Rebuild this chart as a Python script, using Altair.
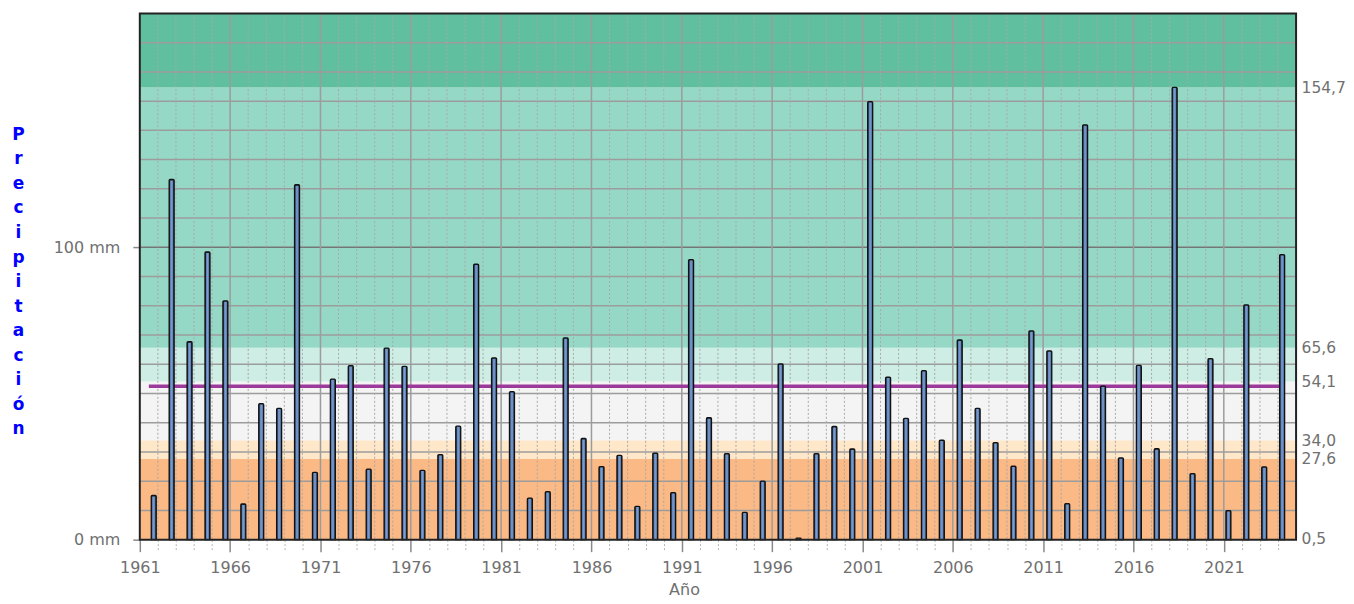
import altair as alt
import pandas as pd

# ---------------- data ----------------
years = list(range(1961, 2025))
precip = [
    15.1, 123.2, 67.7, 98.4, 81.7, 12.2, 46.5, 44.9, 121.4, 23.0,
    54.9, 59.5, 24.1, 65.5, 59.3, 23.7, 29.1, 38.8, 94.2, 62.2,
    50.6, 14.2, 16.4, 69.0, 34.6, 25.0, 28.8, 11.4, 29.6, 16.1,
    95.8, 41.7, 29.4, 9.3, 20.0, 60.1, 0.5, 29.4, 38.7, 31.0,
    149.8, 55.6, 41.5, 57.8, 34.0, 68.3, 44.9, 33.2, 25.1, 71.4,
    64.6, 12.3, 141.9, 52.5, 28.0, 59.6, 31.1, 154.7, 22.6, 61.9,
    9.9, 80.3, 24.9, 97.5,
]
band_low = [0.0, 27.6, 34.0, 54.1, 65.6, 154.7]
band_high = [27.6, 34.0, 54.1, 65.6, 154.7, 180.0]
band_colors = ["#FBB985", "#FFE7CA", "#F4F4F4", "#CDEDE5", "#96D8C6", "#60BF9F"]
right_ticks = [0.5, 27.6, 34.0, 54.1, 65.6, 154.7]
left_ticks = [0, 100]
mean_value = 52.5
mean_span = [1961.5, 2024.3]
hgrid = list(range(10, 180, 10))
x_domain = [1961, 2025]
y_domain = [0, 180]

W, H = 1158, 527
FONT = "DejaVu Sans"
LABEL_COLOR = "#707070"

xs = alt.Scale(domain=x_domain, nice=False, zero=False)
ys = alt.Scale(domain=y_domain, nice=False, zero=True)

major_test = "(datum.value - 1961) % 5 === 0"

# ---------------- layers ----------------
bands_df = pd.DataFrame({"lo": band_low, "hi": band_high, "color": band_colors,
                         "x0": x_domain[0], "x1": x_domain[1]})
bands = alt.Chart(bands_df).mark_rect().encode(
    x=alt.X("x0:Q", scale=xs, axis=alt.Axis(
        values=years, format="d",
        labelExpr="(datum.value - 1961) % 5 === 0 ? datum.label : ''",
        labelFlush=False, labelOverlap=False, labelBound=False,
        labelFontSize=16,
        tickSize=12, labelPadding=8,
        tickColor={"condition": {"test": major_test, "value": "#8a8a8a"}, "value": "#b4b4b4"},
        tickDash={"condition": {"test": major_test, "value": []}, "value": [2, 2]},
        tickWidth={"condition": {"test": major_test, "value": 1.5}, "value": 1},
        domain=False, grid=False,
        title="Año", titleX=545, titleY=55, titleAlign="center", titleBaseline="alphabetic",
        titleFontSize=16, titleFontWeight="normal", titleColor=LABEL_COLOR, titleFont=FONT,
    )),
    x2="x1:Q",
    y=alt.Y("lo:Q", scale=ys, axis=alt.Axis(
        values=left_ticks, labelExpr="datum.value + ' mm'",
        labelFontSize=16,
        tickSize=7, tickColor="#8a8a8a", tickWidth=1.5, labelPadding=13,
        domain=False, grid=False,
        title=list("Precipitación"), titleAngle=0, titleX=-122, titleY=113,
        titleAlign="center", titleBaseline="top", titleLineHeight=24.6,
        titleFontSize=17, titleFontWeight="bold", titleColor="#0000FF", titleFont=FONT,
    )),
    y2="hi:Q",
    color=alt.Color("color:N", scale=None),
)

hg_df = pd.DataFrame({"v": hgrid, "x0": x_domain[0], "x1": x_domain[1]})
hgrid_layer = alt.Chart(hg_df).mark_rule(strokeWidth=1.5).encode(
    x=alt.X("x0:Q", scale=xs, axis=None),
    x2="x1:Q",
    y=alt.Y("v:Q", scale=ys, axis=None),
    color=alt.condition("datum.v == 100", alt.value("#767676"), alt.value("#9c9c9c")),
)

yr_df = pd.DataFrame({"year": years[1:]})
vmajor = alt.Chart(yr_df).transform_filter("(datum.year - 1961) % 5 == 0").mark_rule(
    strokeWidth=1.5, color="#9c9c9c").encode(x=alt.X("year:Q", scale=xs, axis=None))
vminor = alt.Chart(yr_df).transform_filter("(datum.year - 1961) % 5 != 0").mark_rule(
    strokeWidth=1, color="#a9a9a9", strokeDash=[2, 2]).encode(x=alt.X("year:Q", scale=xs, axis=None))

mean_df = pd.DataFrame({"m": [mean_value], "x0": [mean_span[0]], "x1": [mean_span[1]]})
mean_rule = alt.Chart(mean_df).mark_rule(strokeWidth=3.5, color="#9B3A9B").encode(
    x=alt.X("x0:Q", scale=xs, axis=None),
    x2="x1:Q",
    y=alt.Y("m:Q", scale=ys, axis=alt.Axis(
        orient="right", values=right_ticks,
        labelExpr="replace(format(datum.value, '.1f'), '.', ',')",
        labelFontSize=15.5,
        ticks=False, domain=False, grid=False, labelPadding=5, labelOverlap=False,
        labelFlush=False, title=None)),
)

grad = alt.Gradient(gradient="linear", x1=0, x2=1, y1=0, y2=0, stops=[
    alt.GradientStop(color="#3E5E90", offset=0),
    alt.GradientStop(color="#7A9DD2", offset=0.5),
    alt.GradientStop(color="#3E5E90", offset=1),
])
bars_df = pd.DataFrame({"year": years, "p": precip})
bars = alt.Chart(bars_df).transform_calculate(xc="datum.year + 0.5").mark_bar(
    size=5, color=grad, stroke="#111111", strokeWidth=1.3, orient="vertical",
    cornerRadiusTopLeft=1, cornerRadiusTopRight=1,
).encode(
    x=alt.X("xc:Q", scale=xs, axis=None),
    y=alt.Y("p:Q", scale=ys, axis=None),
)

frame_df = pd.DataFrame({"x0": [x_domain[0]], "x1": [x_domain[1]], "y0": [y_domain[0]], "y1": [y_domain[1]]})
frame = alt.Chart(frame_df).mark_rect(fillOpacity=0, stroke="#222222", strokeWidth=2).encode(
    x=alt.X("x0:Q", scale=xs, axis=None), x2="x1:Q",
    y=alt.Y("y0:Q", scale=ys, axis=None), y2="y1:Q",
)

chart = alt.layer(bands, hgrid_layer, vminor, vmajor, mean_rule, bars, frame).resolve_scale(
    x="independent", y="independent"
).properties(
    width=W, height=H,
    background="white",
    autosize=alt.AutoSizeParams(type="none"),
    padding={"left": 132, "top": 5, "right": 50, "bottom": 58},
).configure_view(strokeWidth=0).configure_axis(
    labelFont=FONT, labelColor=LABEL_COLOR,
)

chart.save("out.html", embed_options={"renderer": "svg", "actions": False})
